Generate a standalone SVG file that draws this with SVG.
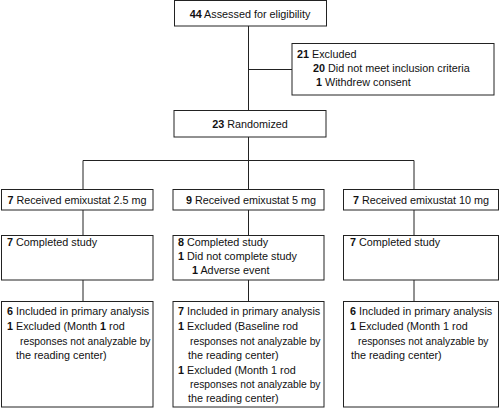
<svg xmlns="http://www.w3.org/2000/svg" width="500" height="408" viewBox="0 0 500 408">
<style>
.box{fill:#fff;stroke:#222;stroke-width:1}
.ln{stroke:#222;stroke-width:1;fill:none}
text{font-family:"Liberation Sans",Arial,sans-serif;font-size:10.8px;fill:#111}
.c{text-anchor:middle}
.b{font-weight:bold}
.r{font-size:10.3px}
</style>
<rect width="500" height="408" fill="#fff"/>
<g id="connectors">
<path class="ln" d="M248.5 26V110M248.5 69.5H292M248.5 137V160.5M83 160.5H414M83 160.5V189M248.5 160.5V189M414 160.5V189M83 210V235M248.5 210V235M414 210V235M83 280V301M248.5 280V301M414 280V301"/>
</g>
<g id="assessed">
<rect class="box" x="174.5" y="0.5" width="152" height="25.5"/>
<text class="c" x="250" y="18"><tspan class="b">44</tspan> Assessed for eligibility</text>
</g>
<g id="excluded">
<rect class="box" x="292" y="43.5" width="202" height="51.5"/>
<text x="297" y="57.5"><tspan class="b">21</tspan> Excluded</text>
<text x="313" y="72"><tspan class="b">20</tspan> Did not meet inclusion criteria</text>
<text x="316" y="86"><tspan class="b">1</tspan> Withdrew consent</text>
</g>
<g id="randomized">
<rect class="box" x="174" y="110.5" width="152" height="26.5"/>
<text class="c" x="250" y="128"><tspan class="b">23</tspan> Randomized</text>
</g>
<g id="arm1">
<rect class="box" x="1.5" y="189.5" width="151.5" height="20.5"/>
<text class="c" x="77" y="204"><tspan class="b">7</tspan> Received emixustat 2.5 mg</text>
</g>
<g id="arm2">
<rect class="box" x="173" y="189.5" width="151" height="20.5"/>
<text class="c" x="251" y="204"><tspan class="b">9</tspan> Received emixustat 5 mg</text>
</g>
<g id="arm3">
<rect class="box" x="343.5" y="189.5" width="155" height="20.5"/>
<text class="c" x="421" y="204"><tspan class="b">7</tspan> Received emixustat 10 mg</text>
</g>
<g id="completed1">
<rect class="box" x="1.5" y="235.5" width="151.5" height="44.5"/>
<text x="7" y="246"><tspan class="b">7</tspan> Completed study</text>
</g>
<g id="completed2">
<rect class="box" x="173" y="235.5" width="151" height="44.5"/>
<text x="178" y="246"><tspan class="b">8</tspan> Completed study</text>
<text x="178" y="260"><tspan class="b">1</tspan> Did not complete study</text>
<text x="192" y="274"><tspan class="b">1</tspan> Adverse event</text>
</g>
<g id="completed3">
<rect class="box" x="343.5" y="235.5" width="155" height="44.5"/>
<text x="350" y="246"><tspan class="b">7</tspan> Completed study</text>
</g>
<g id="analysis1">
<rect class="box" x="1.5" y="301.5" width="151.5" height="105.5"/>
<text x="7" y="315"><tspan class="b">6</tspan> Included in primary analysis</text>
<text x="7" y="330"><tspan class="b">1</tspan> Excluded (Month <tspan class="b">1</tspan> rod</text>
<text class="r" x="20" y="344.5">responses not analyzable by</text>
<text x="16" y="359">the reading center)</text>
</g>
<g id="analysis2">
<rect class="box" x="173" y="301.5" width="151" height="105.5"/>
<text x="178" y="315"><tspan class="b">7</tspan> Included in primary analysis</text>
<text x="178" y="330"><tspan class="b">1</tspan> Excluded (Baseline rod</text>
<text class="r" x="190" y="344.5">responses not analyzable by</text>
<text x="188" y="359">the reading center)</text>
<text x="178" y="373.5"><tspan class="b">1</tspan> Excluded (Month 1 rod</text>
<text class="r" x="190" y="388">responses not analyzable by</text>
<text x="188" y="402">the reading center)</text>
</g>
<g id="analysis3">
<rect class="box" x="343.5" y="301.5" width="155" height="105.5"/>
<text x="350" y="315"><tspan class="b">6</tspan> Included in primary analysis</text>
<text x="350" y="330"><tspan class="b">1</tspan> Excluded (Month 1 rod</text>
<text class="r" x="358" y="344.5">responses not analyzable by</text>
<text x="351" y="359">the reading center)</text>
</g>
</svg>
